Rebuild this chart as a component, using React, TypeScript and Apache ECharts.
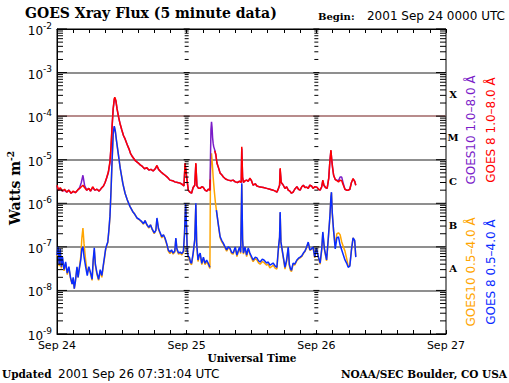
import React, { useEffect, useRef } from "react";
import * as echarts from "echarts";

// x values are hours since 2001 Sep 24 00:00 UTC
const dayLabels = ["Sep 24", "Sep 25", "Sep 26", "Sep 27"];
const classLetters = ["X", "M", "C", "B", "A"];
const classLevels = [3.16e-4, 3.16e-5, 3.16e-6, 3.16e-7, 3.16e-8];
const tickColumns = [0, 24, 48, 72];
const decadeExponents = [-9, -8, -7, -6, -5, -4, -3];

// GOES 8 1.0-8.0 A (red)
const goes8Long: any[] = [
  [0, 2.6e-6], [0.3, 2.0e-6], [0.6, 2.3e-6], [1.0, 1.9e-6], [1.4, 2.1e-6], [1.8, 1.8e-6], [2.2, 2.0e-6],
  [2.6, 1.7e-6], [3.0, 1.9e-6], [3.4, 1.75e-6], [3.8, 2.0e-6], [4.2, 2.2e-6], [4.5, 2.4e-6], [4.8, 2.6e-6],
  [5.1, 2.3e-6], [5.5, 2.0e-6], [5.9, 2.2e-6], [6.2, 1.9e-6], [6.6, 2.4e-6], [7.0, 2.0e-6], [7.4, 2.1e-6],
  [7.8, 1.9e-6], [8.2, 2.2e-6], [8.6, 2.5e-6], [8.9, 3.0e-6], [9.2, 3.9e-6], [9.5, 5.2e-6], [9.8, 9e-6],
  [10.0, 2.0e-5], [10.2, 6e-5], [10.4, 1.5e-4], [10.6, 2.5e-4], [10.7, 2.7e-4], [10.9, 2.3e-4], [11.1, 1.5e-4],
  [11.4, 9.5e-5], [11.7, 6.5e-5], [12.0, 4.8e-5], [12.3, 3.6e-5], [12.6, 3.0e-5], [13.0, 2.2e-5], [13.3, 1.8e-5],
  [13.6, 1.4e-5], [14.0, 1.15e-5], [14.5, 9.5e-6], [15.0, 8.5e-6], [15.4, 7.6e-6], [15.8, 7.0e-6], [16.2, 6.2e-6],
  [16.6, 6.6e-6], [17.0, 5.8e-6], [17.4, 6.0e-6], [17.8, 5.5e-6], [18.2, 6.3e-6], [18.5, 7.4e-6], [18.8, 6.0e-6],
  [19.2, 5.3e-6], [19.6, 4.8e-6], [20.0, 4.4e-6], [20.4, 4.0e-6], [20.9, 3.4e-6], [21.4, 3.3e-6], [21.8, 3.1e-6],
  [22.3, 3.0e-6], [22.8, 2.9e-6], [23.2, 2.7e-6], [23.5, 2.5e-6], [23.7, 8.4e-6], [24.0, 4.0e-6], [24.3, 2.0e-6],
  [24.6, 1.8e-6], [24.9, 1.7e-6], [25.2, 2.3e-6], [25.5, 2.6e-6], [25.7, 8.4e-6], [25.9, 2.5e-6], [26.2, 2.2e-6],
  [26.5, 2.2e-6], [26.8, 2.4e-6], [27.1, 2.3e-6], [27.4, 2.0e-6], [27.7, 1.9e-6], [28.0, 2.1e-6], [28.3, 2.0e-6],
  [28.35, 3.5e-6], [28.4, "-"], [29.2, 1.6e-5], [29.4, 1.3e-5], [29.6, 8.4e-6], [29.9, 6.5e-6], [30.2, 4.9e-6],
  [30.5, 4.5e-6], [30.8, 4.0e-6], [31.2, 3.6e-6], [31.7, 3.4e-6], [32.2, 3.3e-6], [32.6, 3.4e-6], [33.0, 3.1e-6],
  [33.4, 3.0e-6], [33.8, 3.2e-6], [34.1, 3.0e-6], [34.2, 1.98e-5], [34.35, 4e-6], [34.5, 3.0e-6], [34.8, 3.3e-6],
  [35.1, 3.4e-6], [35.4, 3.2e-6], [35.7, 3.8e-6], [36.0, 3.3e-6], [36.3, 2.6e-6], [36.7, 2.8e-6], [37.0, 2.5e-6],
  [37.6, 2.35e-6], [38.2, 2.3e-6], [38.8, 2.2e-6], [39.4, 2.1e-6], [40.0, 2.0e-6], [40.4, 1.9e-6], [40.7, 1.8e-6],
  [41.0, 2.2e-6], [41.2, 2.6e-6], [41.3, 6.4e-6], [41.5, 3.0e-6], [41.8, 2.7e-6], [42.2, 2.2e-6], [42.5, 2.4e-6],
  [42.8, 2.0e-6], [43.1, 1.9e-6], [43.4, 1.7e-6], [43.7, 1.8e-6], [44.0, 2.1e-6], [44.4, 2.4e-6], [44.7, 2.1e-6],
  [45.0, 2.0e-6], [45.3, 2.4e-6], [45.6, 2.6e-6], [45.9, 2.3e-6], [46.2, 2.35e-6], [46.5, 2.2e-6], [46.8, 2.6e-6],
  [47.1, 2.5e-6], [47.4, 2.2e-6], [47.7, 2.4e-6], [48.1, 2.35e-6], [48.4, 2.1e-6], [48.7, 2.0e-6], [49.0, 2.4e-6],
  [49.2, 3.4e-6], [49.4, 2.6e-6], [49.7, 2.3e-6], [50.0, 2.2e-6], [50.3, 3.8e-6], [50.5, 9e-6], [50.7, 1.66e-5],
  [50.85, 1.0e-5], [51.0, 6.7e-6], [51.2, 4.4e-6], [51.5, 3.5e-6], [51.8, 3.3e-6], [52.1, 3.1e-6], [52.4, 3.4e-6],
  [52.7, 3.3e-6], [53.0, 2.6e-6], [53.3, 2.1e-6], [53.6, 2.0e-6], [53.9, 2.0e-6], [54.2, 2.1e-6], [54.5, 3.0e-6],
  [54.8, 3.7e-6], [55.1, 3.2e-6], [55.3, 2.6e-6],
];

// GOES10 1.0-8.0 A (purple)
const goes10Long: any[] = [
  [0, 2.5e-6], [0.3, 2.0e-6], [0.6, 2.2e-6], [1.0, 1.9e-6], [1.4, 2.0e-6], [1.8, 1.8e-6], [2.2, 2.0e-6],
  [2.6, 1.7e-6], [3.0, 1.85e-6], [3.4, 1.75e-6], [3.8, 2.0e-6], [4.2, 2.3e-6], [4.5, 3.0e-6], [4.8, 4.4e-6],
  [5.1, 2.6e-6], [5.5, 2.0e-6], [5.9, 2.2e-6], [6.2, 1.9e-6], [6.6, 2.3e-6], [7.0, 2.0e-6], [7.4, 2.1e-6],
  [7.8, 1.9e-6], [8.2, 2.2e-6], [8.6, 2.5e-6], [8.9, 3.0e-6], [9.2, 3.8e-6], [9.5, 5.0e-6], [9.8, 8.5e-6],
  [10.0, 1.9e-5], [10.2, 5.8e-5], [10.4, 1.45e-4], [10.6, 2.4e-4], [10.7, 2.6e-4], [10.9, 2.2e-4], [11.1, 1.5e-4],
  [11.4, 9.5e-5], [11.7, 6.5e-5], [12.0, 4.8e-5], [12.3, 3.6e-5], [12.6, 3.0e-5], [13.0, 2.2e-5], [13.3, 1.8e-5],
  [13.6, 1.4e-5], [14.0, 1.15e-5], [14.5, 9.5e-6], [15.0, 8.5e-6], [15.4, 7.6e-6], [15.8, 7.0e-6], [16.2, 6.2e-6],
  [16.6, 6.5e-6], [17.0, 5.8e-6], [17.4, 6.0e-6], [17.8, 5.5e-6], [18.2, 6.2e-6], [18.5, 7.2e-6], [18.8, 6.0e-6],
  [19.2, 5.3e-6], [19.6, 4.8e-6], [20.0, 4.4e-6], [20.4, 4.0e-6], [20.9, 3.4e-6], [21.4, 3.3e-6], [21.8, 3.1e-6],
  [22.3, 3.0e-6], [22.8, 2.9e-6], [23.2, 2.7e-6], [23.5, 2.5e-6], [23.7, 8.0e-6], [24.0, 4.0e-6], [24.3, 2.0e-6],
  [24.6, 1.8e-6], [24.9, 1.7e-6], [25.2, 2.3e-6], [25.5, 2.6e-6], [25.7, 8.0e-6], [25.9, 2.5e-6], [26.2, 2.2e-6],
  [26.5, 2.2e-6], [26.8, 2.4e-6], [27.1, 2.3e-6], [27.4, 2.0e-6], [27.7, 1.9e-6], [28.0, 2.1e-6], [28.3, 2.0e-6],
  [28.4, 1.0e-5], [28.5, 5.0e-5], [28.6, 7.4e-5], [28.7, 5.5e-5], [28.8, 3.2e-5], [28.9, 2.4e-5], [29.0, 2.0e-5],
  [29.2, 1.66e-5], [29.4, 1.3e-5], [29.6, 8.4e-6], [29.9, 6.5e-6], [30.2, 4.9e-6], [30.5, 4.5e-6], [30.8, 4.0e-6],
  [31.2, 3.6e-6], [31.7, 3.4e-6], [32.2, 3.3e-6], [32.6, 3.4e-6], [33.0, 3.1e-6], [33.4, 3.0e-6], [33.8, 3.2e-6],
  [34.1, 3.0e-6], [34.2, 1.8e-5], [34.35, 4e-6], [34.5, 3.0e-6], [34.8, 3.3e-6], [35.1, 3.4e-6], [35.4, 3.2e-6],
  [35.7, 3.7e-6], [36.0, 3.3e-6], [36.3, 2.6e-6], [36.7, 2.8e-6], [37.0, 2.5e-6], [37.6, 2.35e-6], [38.2, 2.3e-6],
  [38.8, 2.2e-6], [39.4, 2.1e-6], [40.0, 2.0e-6], [40.4, 1.9e-6], [40.7, 1.8e-6], [41.0, 2.2e-6], [41.2, 2.6e-6],
  [41.3, 6.0e-6], [41.5, 3.0e-6], [41.8, 2.7e-6], [42.2, 2.2e-6], [42.5, 2.4e-6], [42.8, 2.0e-6], [43.1, 1.9e-6],
  [43.4, 1.7e-6], [43.7, 1.8e-6], [44.0, 2.1e-6], [44.4, 2.4e-6], [44.7, 2.1e-6], [45.0, 2.0e-6], [45.3, 2.4e-6],
  [45.6, 2.6e-6], [45.9, 2.3e-6], [46.2, 2.35e-6], [46.5, 2.2e-6], [46.8, 2.6e-6], [47.1, 2.5e-6], [47.4, 2.2e-6],
  [47.7, 2.4e-6], [48.1, 2.35e-6], [48.4, 2.1e-6], [48.7, 2.0e-6], [49.0, 2.4e-6], [49.2, 3.3e-6], [49.4, 2.6e-6],
  [49.7, 2.3e-6], [50.0, 2.2e-6], [50.3, 3.8e-6], [50.5, 9e-6], [50.7, 1.6e-5], [50.85, 1.0e-5], [51.0, 6.7e-6],
  [51.2, 4.4e-6], [51.5, 3.5e-6], [51.8, 3.4e-6], [52.1, 3.3e-6], [52.4, 4.0e-6], [52.7, 4.0e-6], [53.0, 2.8e-6],
  [53.3, 2.1e-6], [53.6, 2.0e-6], [53.9, 2.0e-6], [54.2, 2.1e-6], [54.5, 3.0e-6], [54.8, 3.6e-6], [55.1, 3.2e-6],
  [55.3, 2.6e-6],
];

// GOES 8 0.5-4.0 A (blue)
const goes8Short: any[] = [
  [0, 6.5e-8], [0.2, 1.0e-7], [0.4, 4.0e-8], [0.6, 9.0e-8], [0.8, 3.5e-8], [1.0, 6.0e-8], [1.3, 3.0e-8],
  [1.6, 4.5e-8], [1.9, 2.5e-8], [2.2, 3.5e-8], [2.5, 2.0e-8], [2.8, 1.4e-8], [3.0, 2.0e-8], [3.2, 1.1e-8],
  [3.4, 1.6e-8], [3.7, 3.5e-8], [3.9, 2.0e-8], [4.1, 3.0e-8], [4.4, 5.0e-8], [4.6, 9.0e-8], [4.8, 1.0e-7],
  [5.0, 6.0e-8], [5.3, 3.5e-8], [5.6, 2.2e-8], [5.9, 3.5e-8], [6.2, 2.6e-8], [6.5, 1.8e-8], [6.7, 5.0e-8],
  [6.9, 9.5e-8], [7.1, 4.0e-8], [7.4, 2.5e-8], [7.7, 1.8e-8], [8.0, 3.0e-8], [8.3, 2.2e-8], [8.6, 4.0e-8],
  [8.8, 6.0e-8], [9.0, 9.0e-8], [9.2, 1.1e-7], [9.4, 1.3e-7], [9.6, 2.4e-7], [9.8, 5.0e-7], [10.0, 2.0e-6],
  [10.2, 9.8e-6], [10.4, 4.0e-5], [10.6, 5.9e-5], [10.8, 4.5e-5], [11.0, 2.8e-5], [11.3, 1.5e-5], [11.7, 6.4e-6],
  [12.2, 2.8e-6], [12.6, 1.7e-6], [13.0, 1.2e-6], [13.5, 8.5e-7], [14.0, 6.5e-7], [14.4, 5.6e-7], [14.8, 4.6e-7],
  [15.2, 4.3e-7], [15.6, 3.9e-7], [16.0, 3.4e-7], [16.3, 4.0e-7], [16.6, 3.3e-7], [17.0, 2.8e-7], [17.3, 3.2e-7],
  [17.6, 2.6e-7], [18.0, 2.1e-7], [18.3, 2.4e-7], [18.5, 4.6e-7], [18.8, 2.6e-7], [19.1, 2.1e-7], [19.4, 1.7e-7],
  [19.7, 1.9e-7], [20.0, 1.6e-7], [20.3, 1.2e-7], [20.6, 8.5e-8], [20.9, 7.6e-8], [21.2, 8.5e-8], [21.5, 7.2e-8],
  [21.8, 8.0e-8], [22.0, 1.6e-7], [22.2, 9.0e-8], [22.5, 7.2e-8], [22.8, 7.6e-8], [23.1, 7.0e-8], [23.4, 8.0e-8],
  [23.6, 2.0e-7], [23.8, 1.0e-6], [24.0, 2.5e-7], [24.1, 8.5e-8], [24.3, 6.0e-8], [24.5, 5.8e-8], [24.7, 4.5e-8],
  [24.9, 4.2e-8], [25.2, 7.2e-8], [25.5, 1.5e-7], [25.7, 1.0e-6], [25.85, 1.2e-7], [26.1, 5.0e-8], [26.3, 6.5e-8],
  [26.5, 7.2e-8], [26.8, 4.2e-8], [27.1, 5.8e-8], [27.4, 4.2e-8], [27.7, 5.0e-8], [28.0, 4.2e-8], [28.3, 3.4e-8],
  [28.4, "-"], [29.5, 7e-7], [29.9, 3.0e-7], [30.2, 1.7e-7], [30.5, 1.4e-7], [30.8, 1.2e-7], [31.1, 1.0e-7],
  [31.4, 8.5e-8], [31.7, 1.0e-7], [32.0, 9.4e-8], [32.3, 7.6e-8], [32.6, 7.2e-8], [33.0, 9.9e-8], [33.3, 6.5e-8],
  [33.6, 8.5e-8], [33.8, 9.9e-8], [34.0, 7.5e-8], [34.2, 2.9e-6], [34.35, 1.5e-7], [34.5, 7.2e-8], [34.8, 9.9e-8],
  [35.1, 6.5e-8], [35.4, 9.4e-8], [35.7, 7.2e-8], [36.0, 6.0e-8], [36.3, 5.0e-8], [36.7, 5.8e-8], [37.0, 5.6e-8],
  [37.3, 4.8e-8], [37.6, 4.5e-8], [38.0, 5.2e-8], [38.3, 5.0e-8], [38.8, 4.25e-8], [39.1, 4.5e-8], [39.4, 3.8e-8],
  [39.7, 4.0e-8], [40.0, 4.25e-8], [40.4, 3.6e-8], [40.7, 3.4e-8], [41.0, 9.9e-8], [41.2, 1.7e-7], [41.3, 6.3e-7],
  [41.45, 1.3e-7], [41.6, 9.9e-8], [41.9, 5.8e-8], [42.2, 3.4e-8], [42.5, 5.0e-8], [42.8, 9.9e-8], [43.0, 4.0e-8],
  [43.2, 3.2e-8], [43.4, 2.9e-8], [43.7, 4.25e-8], [44.0, 4.0e-8], [44.4, 5.0e-8], [44.7, 5.5e-8], [45.0, 5.8e-8],
  [45.3, 6.2e-8], [45.6, 7.2e-8], [45.9, 8.0e-8], [46.2, 9.9e-8], [46.5, 1.29e-7], [46.8, 8.5e-8], [47.1, 9.0e-8],
  [47.4, 9.9e-8], [47.7, 5.8e-8], [48.0, 9.4e-8], [48.4, 5.8e-8], [48.7, 4.25e-8], [49.0, 9.0e-8], [49.2, 2.2e-7],
  [49.5, 9.0e-8], [49.9, 5.0e-8], [50.2, 1.5e-7], [50.5, 4.8e-7], [50.7, 1.4e-6], [50.8, 1.8e-6], [50.95, 6.0e-7],
  [51.2, 2.3e-7], [51.5, 9.0e-8], [51.8, 1.6e-7], [52.1, 1.7e-7], [52.4, 1.1e-7], [52.7, 8.5e-8], [53.0, 6.5e-8],
  [53.3, 5.0e-8], [53.6, 4.25e-8], [53.9, 3.4e-8], [54.2, 3.6e-8], [54.5, 8.5e-8], [54.8, 1.6e-7], [55.1, 1.4e-7],
  [55.3, 5.8e-8],
];

// GOES10 0.5-4.0 A (orange)
const goes10Short: any[] = [
  [0, 6.0e-8], [0.2, 9.0e-8], [0.4, 3.6e-8], [0.6, 8.0e-8], [0.8, 3.2e-8], [1.0, 5.5e-8], [1.3, 2.8e-8],
  [1.6, 4.2e-8], [1.9, 2.3e-8], [2.2, 3.3e-8], [2.5, 1.9e-8], [2.8, 1.4e-8], [3.0, 1.9e-8], [3.2, 1.1e-8],
  [3.4, 1.6e-8], [3.7, 3.3e-8], [3.9, 2.0e-8], [4.1, 3.0e-8], [4.4, 6.0e-8], [4.6, 1.6e-7], [4.8, 2.7e-7],
  [5.0, 1.2e-7], [5.3, 5.0e-8], [5.6, 2.6e-8], [5.9, 3.3e-8], [6.2, 2.4e-8], [6.5, 1.7e-8], [6.7, 4.6e-8],
  [6.9, 8.5e-8], [7.1, 3.8e-8], [7.4, 2.3e-8], [7.7, 1.7e-8], [8.0, 2.8e-8], [8.3, 2.0e-8], [8.6, 3.8e-8],
  [8.8, 5.6e-8], [9.0, 8.5e-8], [9.2, 1.05e-7], [9.4, 1.25e-7], [9.6, 2.3e-7], [9.8, 4.8e-7], [10.0, 1.9e-6],
  [10.2, 9.5e-6], [10.4, 3.9e-5], [10.6, 5.7e-5], [10.8, 4.4e-5], [11.0, 2.8e-5], [11.3, 1.5e-5], [11.7, 6.4e-6],
  [12.2, 2.8e-6], [12.6, 1.7e-6], [13.0, 1.2e-6], [13.5, 8.5e-7], [14.0, 6.5e-7], [14.4, 5.6e-7], [14.8, 4.6e-7],
  [15.2, 4.2e-7], [15.6, 3.8e-7], [16.0, 3.3e-7], [16.3, 4.0e-7], [16.6, 3.2e-7], [17.0, 2.7e-7], [17.3, 3.2e-7],
  [17.6, 2.5e-7], [18.0, 2.0e-7], [18.3, 2.4e-7], [18.5, 4.4e-7], [18.8, 2.5e-7], [19.1, 2.0e-7], [19.4, 1.6e-7],
  [19.7, 1.9e-7], [20.0, 1.5e-7], [20.3, 1.15e-7], [20.6, 8.0e-8], [20.9, 7.0e-8], [21.2, 8.0e-8], [21.5, 6.8e-8],
  [21.8, 7.6e-8], [22.0, 1.5e-7], [22.2, 8.5e-8], [22.5, 6.8e-8], [22.8, 7.2e-8], [23.1, 6.5e-8], [23.4, 7.6e-8],
  [23.6, 1.9e-7], [23.8, 9.5e-7], [24.0, 2.4e-7], [24.1, 8.0e-8], [24.3, 5.5e-8], [24.5, 5.4e-8], [24.7, 4.2e-8],
  [24.9, 3.9e-8], [25.2, 6.8e-8], [25.5, 1.4e-7], [25.7, 9.5e-7], [25.85, 1.15e-7], [26.1, 4.6e-8], [26.3, 6.0e-8],
  [26.5, 6.8e-8], [26.8, 3.9e-8], [27.1, 5.4e-8], [27.4, 3.9e-8], [27.7, 4.6e-8], [28.0, 3.9e-8], [28.3, 3.2e-8],
  [28.4, 4.0e-6], [28.5, 1.1e-5], [28.6, 1.4e-5], [28.75, 8.0e-6], [28.9, 4.0e-6], [29.1, 2.0e-6], [29.3, 1.1e-6],
  [29.5, 7e-7], [29.9, 3.0e-7], [30.2, 1.6e-7], [30.5, 1.3e-7], [30.8, 1.15e-7], [31.1, 9.5e-8], [31.4, 8.0e-8],
  [31.7, 9.5e-8], [32.0, 9.0e-8], [32.3, 7.0e-8], [32.6, 6.8e-8], [33.0, 9.5e-8], [33.3, 6.0e-8], [33.6, 8.0e-8],
  [33.8, 9.5e-8], [34.0, 7.0e-8], [34.2, 2.7e-6], [34.35, 1.4e-7], [34.5, 6.8e-8], [34.8, 9.5e-8], [35.1, 6.0e-8],
  [35.4, 9.0e-8], [35.7, 6.8e-8], [36.0, 5.5e-8], [36.3, 4.6e-8], [36.7, 5.4e-8], [37.0, 5.0e-8], [37.3, 4.3e-8],
  [37.6, 4.0e-8], [38.0, 4.6e-8], [38.3, 4.4e-8], [38.8, 3.8e-8], [39.1, 4.0e-8], [39.4, 3.3e-8], [39.7, 3.5e-8],
  [40.0, 3.8e-8], [40.4, 3.2e-8], [40.7, 3.1e-8], [41.0, 9.5e-8], [41.2, 1.6e-7], [41.3, 6.0e-7], [41.45, 1.25e-7],
  [41.6, 9.5e-8], [41.9, 5.4e-8], [42.2, 3.1e-8], [42.5, 4.6e-8], [42.8, 9.5e-8], [43.0, 3.7e-8], [43.2, 2.9e-8],
  [43.4, 2.7e-8], [43.7, 4.0e-8], [44.0, 3.8e-8], [44.4, 4.8e-8], [44.7, 5.3e-8], [45.0, 5.6e-8], [45.3, 6.0e-8],
  [45.6, 7.0e-8], [45.9, 7.8e-8], [46.2, 9.6e-8], [46.5, 1.25e-7], [46.8, 8.3e-8], [47.1, 8.8e-8], [47.4, 9.6e-8],
  [47.7, 5.6e-8], [48.0, 9.0e-8], [48.4, 5.6e-8], [48.7, 4.0e-8], [49.0, 8.6e-8], [49.2, 2.1e-7], [49.5, 8.6e-8],
  [49.9, 4.8e-8], [50.2, 1.45e-7], [50.5, 4.6e-7], [50.7, 1.35e-6], [50.8, 1.75e-6], [50.95, 6.0e-7], [51.2, 2.3e-7],
  [51.5, 1.1e-7], [51.8, 2.0e-7], [52.1, 2.1e-7], [52.4, 1.9e-7], [52.7, 1.3e-7], [53.0, 1.0e-7], [53.3, 8.0e-8],
  [53.6, 5.5e-8], [53.9, 3.6e-8], [54.2, 3.8e-8], [54.5, 8.5e-8], [54.8, 1.6e-7], [55.1, 1.35e-7], [55.3, 6.0e-8],
];

const serif = '"DejaVu Serif", serif';
const sans = '"DejaVu Sans", sans-serif';

function buildTickData() {
  const out: number[][] = [];
  for (const col of tickColumns) {
    for (const e of decadeExponents) {
      for (let k = 1; k <= 9; k++) out.push([col, k * Math.pow(10, e), k]);
    }
    out.push([col, 1e-2, 1]);
  }
  return out;
}

export default function App() {
  const ref = useRef<HTMLDivElement>(null);
  useEffect(() => {
    document.body.style.margin = "0";
    const chart = echarts.init(ref.current!, null, { renderer: "svg" });
    const xAxisBase = {
      type: "value",
      min: 0,
      max: 72,
      interval: 24,
      axisLine: { show: true, lineStyle: { color: "#000", width: 1 } },
      axisTick: { show: true, inside: true, length: 4, lineStyle: { color: "#000" } },
      minorTick: { show: true, splitNumber: 8, length: 4, lineStyle: { color: "#000" } },
      splitLine: { show: false },
    };
    const option: any = {
      animation: false,
      backgroundColor: "#fff",
      grid: { left: 57, right: 63, top: 29, bottom: 49, show: true, borderColor: "#000", borderWidth: 1 },
      xAxis: [
        {
          ...xAxisBase,
          position: "bottom",
          axisLabel: {
            margin: 6,
            fontFamily: sans,
            fontSize: 11,
            color: "#000",
            formatter: (v: number) => dayLabels[Math.round(v / 24)] || "",
          },
        },
        { ...xAxisBase, position: "top", axisLabel: { show: false } },
      ],
      yAxis: {
        type: "log",
        logBase: 10,
        min: 1e-9,
        max: 1e-2,
        axisLine: { show: true, lineStyle: { color: "#000" } },
        axisTick: { show: false },
        minorTick: { show: false },
        splitLine: {
          show: true,
          lineStyle: {
            width: 2,
            color: ["rgba(0,0,0,0)", "#8f8f8f", "#8f8f8f", "#8f8f8f", "#8f8f8f", "#b88c8c", "#8f8f8f", "rgba(0,0,0,0)"],
          },
        },
        axisLabel: {
          margin: 5,
          formatter: (v: number) => `{b|10}{s|-${-Math.round(Math.log10(v))}}`,
          rich: {
            b: { fontFamily: sans, fontSize: 12, color: "#000", verticalAlign: "bottom" },
            s: { fontFamily: sans, fontSize: 9, color: "#000", verticalAlign: "top", padding: [0, 0, 7, 0] },
          },
        },
      },
      series: [
        { name: "GOES10 0.5-4.0", type: "line", data: goes10Short, showSymbol: false, lineStyle: { color: "#ffa500", width: 1.5 }, itemStyle: { color: "#ffa500" }, connectNulls: false },
        { name: "GOES10 1.0-8.0", type: "line", data: goes10Long, showSymbol: false, lineStyle: { color: "#7a1cc8", width: 1.5 }, itemStyle: { color: "#7a1cc8" }, connectNulls: false },
        { name: "GOES 8 0.5-4.0", type: "line", data: goes8Short, showSymbol: false, lineStyle: { color: "#0a2cff", width: 1.5 }, itemStyle: { color: "#0a2cff" }, connectNulls: false },
        { name: "GOES 8 1.0-8.0", type: "line", data: goes8Long, showSymbol: false, lineStyle: { color: "#ff0000", width: 1.5 }, itemStyle: { color: "#ff0000" }, connectNulls: false },
        {
          type: "custom",
          silent: true,
          z: 5,
          data: buildTickData(),
          encode: { x: 0, y: 1 },
          renderItem: (params: any, api: any) => {
            const x = api.value(0);
            const k = api.value(2);
            const p = api.coord([x, api.value(1)]);
            const major = k === 1;
            let x1: number, x2: number;
            if (x === 0) { x1 = p[0]; x2 = p[0] + (major ? 10 : 6); }
            else if (x === 72) { x1 = p[0] - (major ? 10 : 6); x2 = p[0]; }
            else { x1 = p[0] - (major ? 3 : 2); x2 = p[0] + (major ? 3 : 2); }
            return { type: "line", shape: { x1, y1: p[1], x2, y2: p[1] }, style: { stroke: "#000", lineWidth: 1 } };
          },
        },
        {
          type: "custom",
          silent: true,
          z: 5,
          data: classLevels.map((v) => [72, v]),
          encode: { x: 0, y: 1 },
          renderItem: (params: any, api: any) => {
            const p = api.coord([api.value(0), api.value(1)]);
            return {
              type: "text",
              x: p[0] + 7,
              y: p[1],
              style: {
                text: classLetters[params.dataIndex],
                fill: "#000",
                font: `bold 10px ${serif}`,
                align: "center",
                verticalAlign: "middle",
                textAlign: "center",
                textVerticalAlign: "middle",
              },
            };
          },
        },
      ],
      graphic: [
        { type: "text", x: 25, y: 13, style: { text: "GOES Xray Flux (5 minute data)", font: `bold 14px ${serif}`, fill: "#000", align: "left", verticalAlign: "middle" } },
        { type: "text", x: 318, y: 16, style: { text: "Begin:", font: `bold 10px ${serif}`, fill: "#000", align: "left", verticalAlign: "middle" } },
        { type: "text", x: 505, y: 16, style: { text: "2001 Sep 24 0000 UTC", font: `12px ${sans}`, fill: "#000", align: "right", verticalAlign: "middle" } },
        {
          type: "text", x: 14, y: 188, rotation: Math.PI / 2,
          style: {
            text: "{a|Watts m}{s|-2}", align: "center", verticalAlign: "middle",
            rich: {
              a: { font: `bold 14px ${serif}`, fill: "#000", verticalAlign: "bottom" },
              s: { font: `bold 9px ${serif}`, fill: "#000", verticalAlign: "top", padding: [0, 0, 7, 0] },
            },
          },
        },
        { type: "text", x: 252, y: 358, style: { text: "Universal Time", font: `bold 10.5px ${serif}`, fill: "#000", align: "center", verticalAlign: "middle" } },
        { type: "text", x: 2, y: 374, style: { text: "Updated", font: `bold 10.5px ${serif}`, fill: "#000", align: "left", verticalAlign: "middle" } },
        { type: "text", x: 58, y: 374, style: { text: "2001 Sep 26 07:31:04 UTC", font: `12px ${sans}`, fill: "#000", align: "left", verticalAlign: "middle" } },
        { type: "text", x: 507, y: 374, style: { text: "NOAA/SEC Boulder, CO USA", font: `bold 10.5px ${serif}`, fill: "#000", align: "right", verticalAlign: "middle" } },
        { type: "text", x: 471, y: 130, rotation: Math.PI / 2, style: { text: "GOES10 1.0–8.0 Å", font: `12px ${sans}`, fill: "#7a1cc8", align: "center", verticalAlign: "middle" } },
        { type: "text", x: 491, y: 130, rotation: Math.PI / 2, style: { text: "GOES 8 1.0–8.0 Å", font: `12px ${sans}`, fill: "#ff0000", align: "center", verticalAlign: "middle" } },
        { type: "text", x: 471, y: 272, rotation: Math.PI / 2, style: { text: "GOES10 0.5–4.0 Å", font: `12px ${sans}`, fill: "#ffa500", align: "center", verticalAlign: "middle" } },
        { type: "text", x: 491, y: 272, rotation: Math.PI / 2, style: { text: "GOES 8 0.5–4.0 Å", font: `12px ${sans}`, fill: "#0a2cff", align: "center", verticalAlign: "middle" } },
      ],
    };
    chart.setOption(option);
    return () => chart.dispose();
  }, []);
  return <div ref={ref} style={{ position: "absolute", left: 0, top: 0, width: 509, height: 383 }} />;
}
